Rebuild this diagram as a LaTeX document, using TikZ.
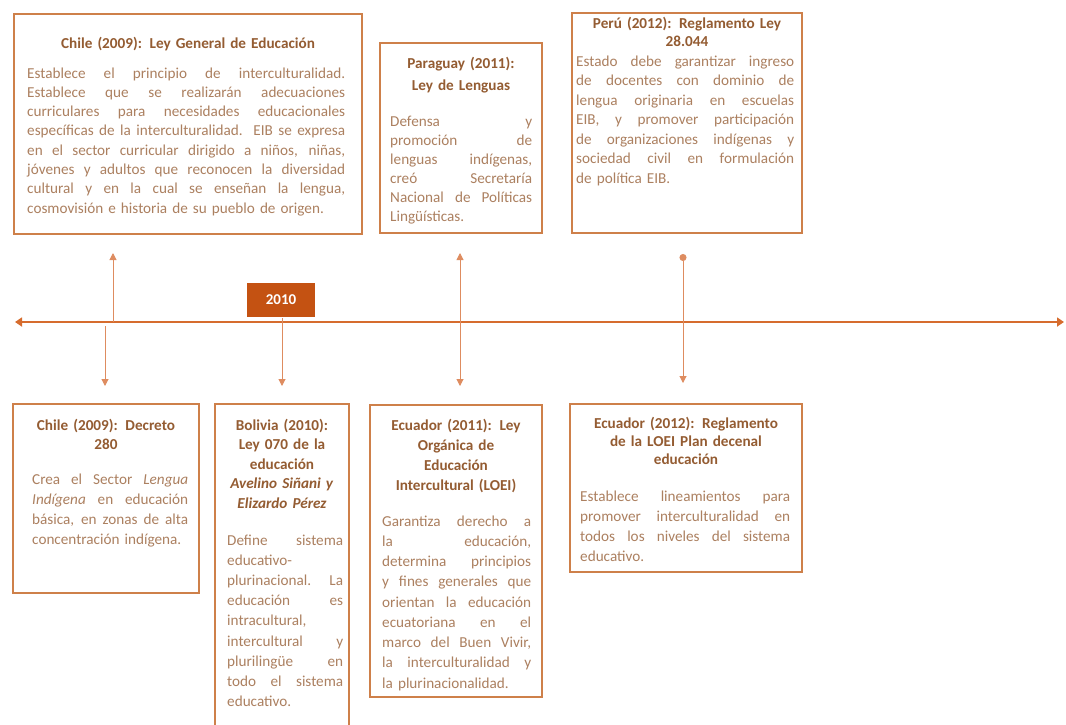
\documentclass[tikz,border=0pt]{standalone}
\usepackage{fontspec}
\setmainfont{Carlito}
\usetikzlibrary{arrows.meta}

\definecolor{boxc}{RGB}{206,128,74}
\definecolor{titlec}{RGB}{148,92,50}
\definecolor{bodyc}{RGB}{172,128,96}
\definecolor{axisc}{RGB}{214,108,46}
\definecolor{linkc}{RGB}{222,140,96}
\definecolor{yearc}{RGB}{196,82,18}

% one justified line of body text (stretchable word spaces)
\newcommand{\jl}[1]{\makebox[\hsize][s]{\spaceskip=0pt\xspaceskip=0pt #1}}

\tikzset{
  box/.style={draw=boxc, line width=1.4pt, fill=white, rectangle,
    anchor=north west, inner sep=0pt, outer sep=0pt},
  ttl/.style={font=\bfseries\fontsize{15.2}{#1}\selectfont, text=titlec,
    align=center, inner sep=0pt},
  ttl/.default=19.5,
  txt/.style={font=\fontsize{15.2}{#1}\selectfont, text=bodyc,
    align=left, inner sep=0pt},
  txt/.default=20,
  axis/.style={draw=axisc, line width=2.6pt,
    {Triangle[length=7pt,width=9pt]}-{Triangle[length=7pt,width=9pt]}},
  link/.style={draw=linkc, line width=1pt, -{Triangle[length=7pt,width=7pt]}},
  yearbox/.style={fill=yearc, text=white, font=\bfseries\fontsize{15}{16}\selectfont,
    minimum width=68pt, minimum height=34pt, inner sep=0pt}
}

\begin{document}
\begin{tikzpicture}[x=1pt,y=-1pt]
\useasboundingbox (0,0) rectangle (1066,724);

% ---------- timeline ----------
\coordinate (axL) at (15,322);
\coordinate (axR) at (1064,322);
\draw[axis] (axL) -- (axR);

\node[yearbox] (y2010) at (281,300) {2010};

% ---------- upper events ----------
\node[box, minimum width=348pt, minimum height=220pt] (lge) at (14,14) {};
\node[ttl, text width=330pt, anchor=base] (lgeT) at (188,48) {Chile (2009): Ley General de Educación};
\node[txt=19.3, text width=318pt, anchor=base west] (lgeB) at (27,78) {%
\jl{Establece el principio de interculturalidad.}\\
\jl{Establece que se realizarán adecuaciones}\\
\jl{curriculares para necesidades educacionales}\\
\jl{específicas de la interculturalidad. EIB se expresa}\\
\jl{en el sector curricular dirigido a niños, niñas,}\\
\jl{jóvenes y adultos que reconocen la diversidad}\\
\jl{cultural y en la cual se enseñan la lengua,}\\
cosmovisión e historia de su pueblo de origen.};

\node[box, minimum width=162pt, minimum height=190pt] (par) at (380,43) {};
\node[ttl=22, text width=150pt, anchor=base] (parT) at (461,68) {Paraguay (2011):\\Ley de Lenguas};
\node[txt=19, text width=142pt, anchor=base west] (parB) at (390,126) {%
\jl{Defensa y}\\
\jl{promoción de}\\
\jl{lenguas indígenas,}\\
\jl{creó Secretaría}\\
\jl{Nacional de Políticas}\\
Lingüísticas.};

\node[box, minimum width=230pt, minimum height=220pt] (per) at (572,13) {};
\node[ttl=18, text width=220pt, anchor=base] (perT) at (687,28) {Perú (2012): Reglamento Ley\\28.044};
\node[txt=19.5, text width=218pt, anchor=base west] (perB) at (576,66) {%
\jl{Estado debe garantizar ingreso}\\
\jl{de docentes con dominio de}\\
\jl{lengua originaria en escuelas}\\
\jl{EIB, y promover participación}\\
\jl{de organizaciones indígenas y}\\
\jl{sociedad civil en formulación}\\
de política EIB.};

% ---------- lower events ----------
\node[box, minimum width=186pt, minimum height=189pt] (dec) at (13,404) {};
\node[ttl, text width=176pt, anchor=base] (decT) at (106,430) {Chile (2009): Decreto\\280};
\node[txt, text width=156pt, anchor=base west] (decB) at (32,484) {%
\jl{Crea el Sector \textit{Lengua}}\\
\jl{\textit{Indígena} en educación}\\
\jl{básica, en zonas de alta}\\
concentración indígena.};

\node[box, minimum width=134pt, minimum height=340pt] (bol) at (215,404) {};
\node[ttl, text width=128pt, anchor=base] (bolT) at (282,430) {Bolivia (2010):\\Ley 070 de la\\educación\\\textit{Avelino Siñani y}\\\textit{Elizardo Pérez}};
\node[txt=20.2, text width=116pt, anchor=base west] (bolB) at (227,545) {%
\jl{Define sistema}\\
educativo-\\
\jl{plurinacional. La}\\
\jl{educación es}\\
intracultural,\\
\jl{intercultural y}\\
\jl{plurilingüe en}\\
\jl{todo el sistema}\\
educativo.};

\node[box, minimum width=172pt, minimum height=292pt] (loei) at (370,405) {};
\node[ttl=20, text width=165pt, anchor=base] (loeiT) at (456,430) {Ecuador (2011): Ley\\Orgánica de\\Educación\\Intercultural (LOEI)};
\node[txt=20.25, text width=149pt, anchor=base west] (loeiB) at (382,526) {%
\jl{Garantiza derecho a}\\
\jl{la educación,}\\
\jl{determina principios}\\
\jl{y fines generales que}\\
\jl{orientan la educación}\\
\jl{ecuatoriana en el}\\
\jl{marco del Buen Vivir,}\\
\jl{la interculturalidad y}\\
la plurinacionalidad.};

\node[box, minimum width=232pt, minimum height=168pt] (reg) at (570,404) {};
\node[ttl=18, text width=225pt, anchor=base] (regT) at (686,428) {Ecuador (2012): Reglamento\\de la LOEI Plan decenal\\educación};
\node[txt, text width=210pt, anchor=base west] (regB) at (580,501) {%
\jl{Establece lineamientos para}\\
\jl{promover interculturalidad en}\\
\jl{todos los niveles del sistema}\\
educativo.};

% ---------- connectors between timeline and events ----------
\coordinate (a1) at (113,322);  \coordinate (a1e) at (113,253);
\coordinate (a2) at (105,326);  \coordinate (a2e) at (105,386);
\coordinate (a3) at (282,318);  \coordinate (a3e) at (282,386);
\coordinate (a4) at (460,322);  \coordinate (a4u) at (460,253);
\coordinate (a4d) at (460,386);
\coordinate (a5u) at (683,254); \coordinate (a5d) at (683,383);

\draw[link] (a1) -- (a1e);
\draw[link] (a2) -- (a2e);
\draw[link] (a3) -- (a3e);
\draw[link] (a4) -- (a4u);
\draw[link] (a4) -- (a4d);
\draw[link, {Circle[length=7pt]}-{Triangle[length=7pt,width=7pt]}] (a5u) -- (a5d);
\end{tikzpicture}
\end{document}
